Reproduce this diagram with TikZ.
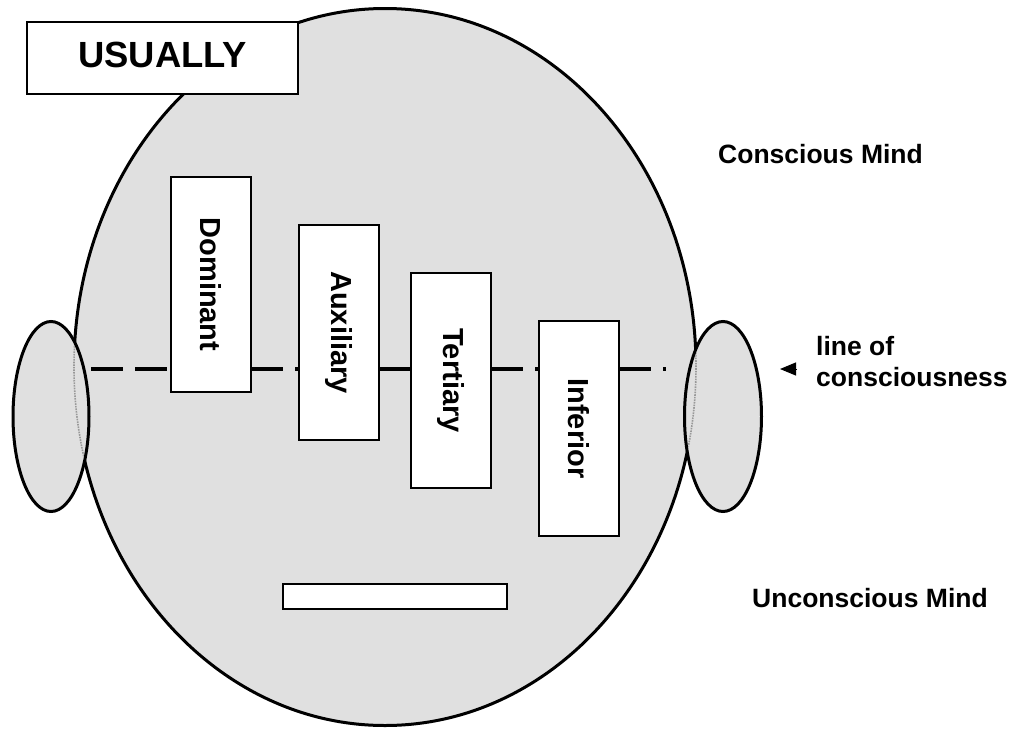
\documentclass[tikz,border=0pt]{standalone}
\usepackage{fontspec}
\setmainfont{Liberation Sans}
\usepackage{graphicx}
\usepackage{tikz}
\usetikzlibrary{positioning}
\usetikzlibrary{shapes,arrows.meta}
\definecolor{skin}{gray}{0.88}
\tikzstyle{headline} = [draw=black, line width=3pt, fill=skin]
\tikzstyle{seeline} = [draw=gray!80, line width=1.6pt, densely dotted]
\tikzstyle{funcblock} = [rectangle, draw=black, line width=2pt, fill=white, minimum width=80pt, minimum height=215pt, inner sep=0pt, outer sep=0pt, font=\fontsize{29}{34}\selectfont\bfseries]
\tikzstyle{titleblock} = [rectangle, draw=black, line width=2pt, fill=white, minimum width=271pt, minimum height=72pt, inner sep=0pt, text depth=7pt, font=\fontsize{36.4}{40}\selectfont\bfseries]
\tikzstyle{sidelabel} = [inner sep=0pt, font=\fontsize{26.5}{31}\selectfont\bfseries]
\tikzstyle{dashline} = [draw, line width=3.5pt, dash pattern=on 32pt off 12pt on 3pt off 12pt]
\tikzstyle{pointer} = [draw, line width=1pt, -{Triangle[length=16pt,width=13pt]}]
\newcommand{\vtext}[1]{\rotatebox{-90}{#1}}

\begin{document}
\begin{tikzpicture}[x=1pt, y=-1pt]
\useasboundingbox (0,0) rectangle (1021,729);
% Head and ears
\draw[headline] (385,367) ellipse [x radius=311pt, y radius=358.5pt];
\draw[headline] (51,416.5) ellipse [x radius=38pt, y radius=95pt];
\draw[headline] (723,416.5) ellipse [x radius=38.5pt, y radius=95pt];
\begin{scope}
\clip (51,416.5) ellipse [x radius=36pt, y radius=93pt];
\draw[seeline] (385,367) ellipse [x radius=311pt, y radius=358.5pt];
\end{scope}
\begin{scope}
\clip (723,416.5) ellipse [x radius=36.5pt, y radius=93pt];
\draw[seeline] (385,367) ellipse [x radius=311pt, y radius=358.5pt];
\end{scope}
% Place nodes
\node[titleblock] (usually) at (162.5,58) {USUALLY};
\node[funcblock] (dom) at (211,284.5) {\vtext{Dominant}};
\node[funcblock, right=48pt of dom, yshift=-48pt] (aux) {\vtext{Auxiliary}};
\node[funcblock, right=32pt of aux, yshift=-48pt] (ter) {\vtext{Tertiary}};
\node[funcblock, right=48pt of ter, yshift=-48pt] (inf) {\vtext{Inferior}};
\node[rectangle, draw, line width=2pt, fill=white, minimum width=224pt, minimum height=25pt] (bar) at (395,596.5) {};
\node[sidelabel, anchor=base west] (cmind) at (718,163) {Conscious Mind};
\node[sidelabel, anchor=base west] (umind) at (752,607) {Unconscious Mind};
\node[sidelabel, anchor=base west, align=left] (lcons) at (816,386) {line of\\consciousness};
% Line of consciousness
\coordinate (lineL) at (91,369);
\coordinate (lineR) at (668,369);
\path[dashline, dash pattern=on 32pt off 12pt] (lineL) -- (lineL -| dom.west);
\foreach \a/\b in {dom/aux,aux/ter,ter/inf}
  \path[dashline] (lineL -| \a.east) -- (lineL -| \b.west);
\path[dashline] (lineL -| inf.east) -- (lineR);
\coordinate (tip) at (780,369);
\coordinate (tail) at (797,369);
\path[pointer] (tail) -- (tip);
\end{tikzpicture}
\end{document}
